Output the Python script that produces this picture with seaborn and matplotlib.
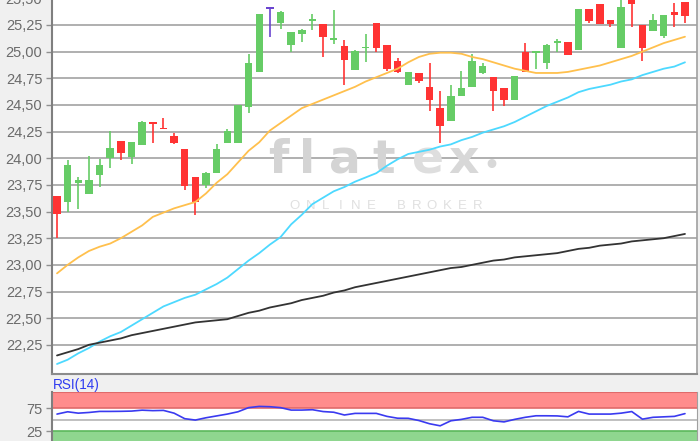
import matplotlib
matplotlib.use('Agg')
import matplotlib.pyplot as plt
import seaborn as sns
import pandas as pd
import numpy as np
from matplotlib.ticker import FixedLocator, FuncFormatter

# candle data
opens = [23.65, 23.59, 23.77, 23.66, 23.84, 24.00, 24.16, 24.01, 24.12, 24.33,
         24.28, 24.21, 24.09, 23.82, 23.75, 23.86, 24.14, 24.14, 24.48, 24.81,
         25.40, 25.27, 25.06, 25.17, 25.29, 25.26, 25.11, 25.05, 24.83, 25.03,
         25.27, 25.06, 24.91, 24.69, 24.80, 24.67, 24.47, 24.35, 24.58, 24.67,
         24.80, 24.76, 24.66, 24.55, 25.00, 24.99, 24.89, 25.08, 25.09, 25.02,
         25.40, 25.45, 25.30, 25.03, 25.48, 25.25, 25.19, 25.15, 25.37, 25.47]
highs = [23.65, 23.98, 23.82, 24.02, 23.99, 24.26, 24.16, 24.15, 24.35, 24.33,
         24.38, 24.24, 24.09, 23.82, 23.87, 24.13, 24.27, 24.50, 24.98, 25.35,
         25.40, 25.38, 25.18, 25.21, 25.35, 25.26, 25.39, 25.11, 25.02, 25.17,
         25.27, 25.06, 24.94, 24.81, 24.80, 24.89, 24.63, 24.69, 24.82, 24.98,
         24.89, 24.76, 24.66, 24.77, 25.08, 25.00, 25.07, 25.12, 25.09, 25.40,
         25.40, 25.45, 25.30, 25.48, 25.55, 25.25, 25.35, 25.34, 25.46, 25.47]
lows = [23.25, 23.50, 23.52, 23.66, 23.73, 23.91, 23.98, 23.95, 24.12, 24.14,
        24.27, 24.13, 23.70, 23.47, 23.72, 23.86, 24.14, 24.14, 24.42, 24.81,
        25.14, 25.21, 25.00, 25.09, 25.20, 24.95, 25.07, 24.69, 24.83, 24.90,
        25.00, 24.82, 24.80, 24.69, 24.71, 24.44, 24.14, 24.35, 24.58, 24.67,
        24.79, 24.44, 24.49, 24.55, 24.81, 24.84, 24.84, 25.00, 24.97, 25.02,
        25.27, 25.26, 25.23, 25.03, 25.23, 24.91, 25.19, 25.13, 25.23, 25.27]
closes = [23.48, 23.94, 23.80, 23.80, 23.94, 24.10, 24.05, 24.15, 24.34, 24.32,
          24.27, 24.14, 23.74, 23.59, 23.86, 24.09, 24.26, 24.50, 24.89, 25.35,
          25.40, 25.37, 25.18, 25.20, 25.30, 25.14, 25.12, 24.92, 25.01, 25.04,
          25.03, 24.84, 24.81, 24.81, 24.72, 24.55, 24.30, 24.58, 24.66, 24.91,
          24.87, 24.63, 24.55, 24.77, 24.81, 25.00, 25.06, 25.09, 24.97, 25.40,
          25.29, 25.26, 25.26, 25.42, 25.45, 25.03, 25.30, 25.34, 25.34, 25.33]

# moving averages
ma_short = [22.92, 23.00, 23.07, 23.13, 23.17, 23.20, 23.25, 23.31, 23.37, 23.45,
            23.49, 23.53, 23.56, 23.59, 23.67, 23.77, 23.85, 23.96, 24.07, 24.15,
            24.26, 24.33, 24.40, 24.47, 24.51, 24.55, 24.59, 24.63, 24.67, 24.72,
            24.76, 24.80, 24.84, 24.90, 24.95, 24.98, 24.99, 24.99, 24.98, 24.95,
            24.93, 24.90, 24.87, 24.84, 24.82, 24.80, 24.80, 24.80, 24.81, 24.83,
            24.85, 24.87, 24.90, 24.93, 24.96, 25.00, 25.04, 25.08, 25.11, 25.14]
ma_mid = [22.07, 22.11, 22.17, 22.22, 22.28, 22.33, 22.37, 22.43, 22.49, 22.55,
          22.61, 22.65, 22.69, 22.72, 22.77, 22.82, 22.88, 22.96, 23.04, 23.11,
          23.19, 23.26, 23.38, 23.47, 23.57, 23.63, 23.69, 23.73, 23.78, 23.82,
          23.86, 23.93, 23.99, 24.04, 24.06, 24.08, 24.11, 24.13, 24.17, 24.20,
          24.24, 24.27, 24.30, 24.34, 24.39, 24.44, 24.49, 24.53, 24.57, 24.62,
          24.65, 24.67, 24.69, 24.72, 24.74, 24.78, 24.81, 24.84, 24.86, 24.90]
ma_long = [22.15, 22.18, 22.21, 22.25, 22.27, 22.29, 22.31, 22.34, 22.36, 22.38,
           22.40, 22.42, 22.44, 22.46, 22.47, 22.48, 22.49, 22.52, 22.55, 22.57,
           22.60, 22.62, 22.64, 22.67, 22.69, 22.71, 22.74, 22.76, 22.79, 22.81,
           22.83, 22.85, 22.87, 22.89, 22.91, 22.93, 22.95, 22.97, 22.98, 23.00,
           23.02, 23.04, 23.05, 23.07, 23.08, 23.09, 23.10, 23.11, 23.13, 23.15,
           23.16, 23.18, 23.19, 23.20, 23.22, 23.23, 23.24, 23.25, 23.27, 23.29]

rsi = [62, 67, 64, 65.5, 67.8, 67.8, 68, 68.5, 70.5, 69.5,
       70, 64, 52, 49, 54, 58, 62, 67, 76, 78.7,
       78, 76, 70.7, 70.7, 71.5, 67.5, 66, 60, 63.5, 63.5,
       63.5, 57, 53, 52.8, 48, 41, 36.5, 47.4, 50.5, 55,
       55, 47.4, 45, 50.5, 55, 58.3, 58.3, 58, 56, 67.8,
       62, 62, 62, 64, 67.5, 51, 55, 56, 57, 63]

price_ticks = [22.25, 22.50, 22.75, 23.00, 23.25, 23.50, 23.75, 24.00,
               24.25, 24.50, 24.75, 25.00, 25.25, 25.50]
rsi_ticks = [25, 75]

GREEN = '#66cc66'
RED = '#ff3333'
PURPLE = '#6a44d0'
LABEL = '#6b6b6b'
GRID = '#a9a9a9'


def fmt_comma(v, _pos):
    return f'{v:.2f}'.replace('.', ',')


def main():
    df = pd.DataFrame({'day': np.arange(len(opens)), 'open': opens, 'high': highs,
                       'low': lows, 'close': closes, 'ma_short': ma_short,
                       'ma_mid': ma_mid, 'ma_long': ma_long, 'rsi': rsi})
    df['color'] = np.where(df['close'] > df['open'], GREEN,
                           np.where(df['close'] < df['open'], RED, PURPLE))

    sns.set_style('white')
    plt.rcParams['font.family'] = ['Liberation Sans', 'DejaVu Sans']

    W, H = 700, 441
    fig = plt.figure(figsize=(7, 4.41), dpi=100, facecolor='#f0f0f0')

    # main price panel (extends a little above the figure, as in the cropped original)
    top_px, bot_px = -20, 374
    ax = fig.add_axes([52 / W, (H - bot_px) / H, 645 / W, (bot_px - top_px) / H])
    ax.set_facecolor('white')
    ppu = 106.6  # pixels per price unit
    ax.set_ylim(25.25 - (bot_px - 25) / ppu, 25.25 + (25 - top_px) / ppu)
    ax.set_xlim(-0.47, 60.13)

    ax.yaxis.set_major_locator(FixedLocator(price_ticks))
    ax.yaxis.set_major_formatter(FuncFormatter(fmt_comma))
    ax.set_xticks([])
    ax.grid(axis='y', color=GRID, lw=1.3, zorder=0)
    ax.set_axisbelow(True)
    ax.tick_params(axis='y', left=True, length=4, width=1, color='#909090',
                   labelsize=10.5, labelcolor=LABEL, pad=3)

    # watermark, kept under the candles and lines
    for ch, xp, col in [('f', 278, '#d4d4d4'), ('l', 307, '#d4d4d4'),
                        ('a', 345, '#d4d4d4'), ('t', 384, '#d4d4d4'),
                        ('e', 428, '#dedede'), ('x', 464, '#d8d8d8'),
                        ('•', 491, '#d8d8d8')]:
        ax.text(xp / W, (H - 173) / H, ch, ha='center', va='baseline',
                fontsize=34 if ch != '•' else 18, color=col, fontweight='bold',
                family=['DejaVu Sans'], transform=fig.transFigure, zorder=1.5)
    for k, ch in enumerate('ONLINE BROKER'):
        ax.text((295 + k * 15.2) / W, (H - 206) / H, ch, ha='center',
                va='center', fontsize=9.5, color='#e0e0e0',
                transform=fig.transFigure, zorder=1.5)

    # candles
    ax.vlines(df['day'], df['low'], df['high'], colors=df['color'], lw=1.2,
              zorder=3)
    body_lo = np.minimum(df['open'], df['close'])
    body_h = np.maximum(np.abs(df['close'] - df['open']), 0.018)
    ax.bar(df['day'], body_h, bottom=body_lo, width=0.7, color=df['color'],
           linewidth=0, zorder=4)

    # moving averages
    sns.lineplot(data=df, x='day', y='ma_short', ax=ax, color='#ffc04d', lw=1.3,
                 zorder=5)
    sns.lineplot(data=df, x='day', y='ma_mid', ax=ax, color='#4dd9ff', lw=1.3,
                 zorder=5)
    sns.lineplot(data=df, x='day', y='ma_long', ax=ax, color='#333333', lw=1.3,
                 zorder=5)
    ax.set_xlabel('')
    ax.set_ylabel('')

    for side in ['left', 'bottom', 'right']:
        ax.spines[side].set_visible(True)
    ax.spines['top'].set_visible(False)
    ax.spines['left'].set_color('#7f7f7f')
    ax.spines['left'].set_linewidth(1.5)
    ax.spines['bottom'].set_color('#8c8c8c')
    ax.spines['bottom'].set_linewidth(1.5)
    ax.spines['right'].set_color('#a0a0a0')
    ax.spines['right'].set_linewidth(1.2)

    # RSI panel
    rtop, rbot = 392, 442.6
    ax2 = fig.add_axes([52 / W, (H - rbot) / H, 645 / W, (rbot - rtop) / H])
    ax2.set_facecolor('white')
    ax2.set_ylim(0, 110)
    ax2.set_xlim(-0.47, 60.13)
    ax2.axhspan(75, 110, color='#ff8c8c', lw=0, zorder=1)
    ax2.axhspan(0, 25, color='#8fd68f', lw=0, zorder=1)
    ax2.axhline(75, color='#e06a6a', lw=1.2, zorder=2)
    ax2.axhline(109, color='#e06a6a', lw=1.5, zorder=2)
    ax2.axhline(25, color='#5cb85c', lw=1.2, zorder=2)
    ax2.axhline(50, color='#b5b5b5', lw=1.2, zorder=2)
    sns.lineplot(data=df, x='day', y='rsi', ax=ax2, color='#3a3af0', lw=1.2,
                 zorder=5)
    ax2.set_xlabel('')
    ax2.set_ylabel('')
    ax2.set_xticks([])
    ax2.yaxis.set_major_locator(FixedLocator(rsi_ticks))
    ax2.tick_params(axis='y', left=True, length=4, width=1, color='#909090',
                    labelsize=10.5, labelcolor=LABEL, pad=3)
    for side in ['left', 'right']:
        ax2.spines[side].set_visible(True)
    ax2.spines['left'].set_color('#7f7f7f')
    ax2.spines['left'].set_linewidth(1.5)
    ax2.spines['right'].set_color('#a0a0a0')
    ax2.spines['top'].set_visible(False)
    ax2.spines['bottom'].set_visible(False)

    fig.text(53 / W, (H - 385.5) / H, 'RSI(14)', ha='left', va='center',
             fontsize=9.8, color='#2f3cf0')

    fig.savefig('out.png', dpi=100, facecolor=fig.get_facecolor())


if __name__ == '__main__':
    main()
